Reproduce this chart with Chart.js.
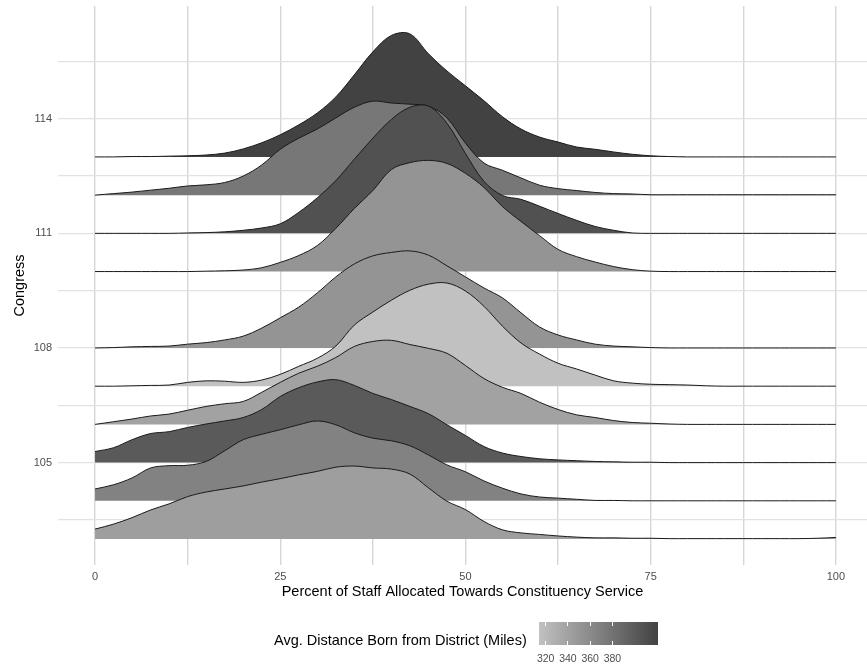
<!DOCTYPE html>
<html lang="en">
<head>
  <meta charset="UTF-8" />
  <title>Constituency Service by Congress</title>
  <script src="https://cdn.jsdelivr.net/npm/chart.js"></script>
  <style>
    body {
      margin: 0;
      background: #fff;
      font-family: 'Liberation Sans', Arial, sans-serif;
    }

    .wrap {
      position: relative;
      width: 867px;
      height: 666px;
    }

    .legend-title {
      position: absolute;
      left: 274px;
      top: 632px;
      font-size: 14.5px;
      line-height: 17px;
      color: #000;
      white-space: nowrap;
    }

    .colorbar {
      position: absolute;
      left: 539px;
      top: 622px;
      width: 119px;
      height: 23px;
      background: linear-gradient(to right, rgb(193,193,193), rgb(66,66,66));
    }

    .cb-tick {
      position: absolute;
      width: 1px;
      height: 4px;
      background: #fff;
    }

    .cb-label {
      position: absolute;
      top: 652px;
      font-size: 10.5px;
      line-height: 13px;
      color: #4d4d4d;
      transform: translateX(-50%);
    }
  </style>
</head>
<body>
  <div class="wrap">
    <canvas id="ridges"></canvas>
    <div class="legend-title">Avg. Distance Born from District (Miles)</div>
    <div class="colorbar" id="colorbar"></div>
  </div>

  <script>
    // congresses that have data (109 has none), bottom to top
    const congresses = [103, 104, 105, 106, 107, 108, 110, 111, 112, 113];
    // average distance born from district, same order
    const avgDistance = [343.5, 367, 401, 340, 314, 352, 352, 408, 376, 421];

    // x positions where ridge heights were read (percent of staff)
    const xGrid = [0, 2.5, 5, 7.5, 10, 12.5, 15, 17.5, 20, 22.5, 25, 27.5, 30, 32.5, 35, 37.5,
      40, 42.5, 45, 47.5, 50, 52.5, 55, 57.5, 60, 62.5, 65, 67.5, 70, 72.5, 75, 77.5,
      80, 82.5, 85, 87.5, 90, 92.5, 95, 97.5, 100];

    // scaled density heights (in congress rows) for each congress
    const density103 = [0.26, 0.39, 0.56, 0.76, 0.92, 1.11, 1.23, 1.31, 1.39, 1.49, 1.58, 1.68, 1.77, 1.88, 1.91, 1.86,
      1.83, 1.70, 1.34, 0.99, 0.77, 0.46, 0.24, 0.16, 0.12, 0.08, 0.05, 0.03, 0.03, 0.02, 0.02, 0.01,
      0.01, 0.01, 0.01, 0.01, 0.01, 0.01, 0.01, 0.02, 0.04];
    const density104 = [0.31, 0.42, 0.60, 0.86, 0.92, 0.93, 1.03, 1.31, 1.60, 1.74, 1.86, 1.99, 2.09, 1.99, 1.78, 1.64,
      1.57, 1.44, 1.20, 0.94, 0.76, 0.52, 0.33, 0.18, 0.10, 0.07, 0.04, 0.01, 0.01, 0, 0, 0,
      0, 0, 0, 0, 0, 0, 0, 0, 0];
    const density105 = [0.29, 0.39, 0.60, 0.76, 0.81, 0.92, 1.01, 1.09, 1.18, 1.39, 1.73, 1.96, 2.11, 2.17, 2.02, 1.81,
      1.65, 1.47, 1.28, 0.99, 0.71, 0.42, 0.25, 0.16, 0.10, 0.07, 0.05, 0.03, 0.02, 0.01, 0.01, 0,
      0, 0, 0, 0, 0, 0, 0, 0, 0];
    const density106 = [0, 0.07, 0.14, 0.22, 0.27, 0.37, 0.47, 0.54, 0.60, 0.84, 1.10, 1.34, 1.52, 1.75, 2.04, 2.17,
      2.20, 2.09, 1.99, 1.86, 1.54, 1.20, 0.97, 0.81, 0.58, 0.39, 0.25, 0.18, 0.10, 0.05, 0.03, 0.01,
      0, 0, 0, 0, 0, 0, 0, 0, 0];
    const density107 = [0, 0, 0.01, 0.02, 0.03, 0.10, 0.14, 0.13, 0.10, 0.16, 0.31, 0.52, 0.73, 1.05, 1.60, 1.94,
      2.25, 2.51, 2.67, 2.70, 2.49, 2.09, 1.57, 1.13, 0.84, 0.60, 0.45, 0.29, 0.14, 0.08, 0.05, 0.04,
      0.03, 0.01, 0, 0, 0, 0, 0, 0, 0];
    const density108 = [0, 0.01, 0.03, 0.04, 0.05, 0.10, 0.14, 0.21, 0.31, 0.52, 0.79, 1.07, 1.44, 1.86, 2.20, 2.41,
      2.50, 2.54, 2.43, 2.15, 1.86, 1.57, 1.31, 0.92, 0.55, 0.34, 0.21, 0.10, 0.05, 0.03, 0.01, 0,
      0, 0, 0, 0, 0, 0, 0, 0, 0];
    const density110 = [0, 0, 0, 0, 0, 0, 0.01, 0.02, 0.04, 0.10, 0.24, 0.42, 0.68, 1.13, 1.65, 2.12,
      2.67, 2.85, 2.91, 2.83, 2.57, 2.20, 1.70, 1.31, 0.94, 0.58, 0.39, 0.25, 0.13, 0.05, 0.01, 0,
      0, 0, 0, 0, 0, 0, 0, 0, 0];
    const density111 = [0, 0, 0, 0, 0, 0.01, 0.02, 0.04, 0.08, 0.14, 0.25, 0.55, 0.93, 1.38, 1.94, 2.49,
      2.98, 3.30, 3.33, 2.88, 2.09, 1.36, 0.99, 0.89, 0.71, 0.52, 0.34, 0.18, 0.08, 0.01, 0, 0,
      0, 0, 0, 0, 0, 0, 0, 0, 0];
    const density112 = [0, 0.04, 0.08, 0.13, 0.18, 0.24, 0.27, 0.33, 0.50, 0.79, 1.20, 1.49, 1.73, 2.02, 2.30, 2.46,
      2.41, 2.38, 2.33, 2.02, 1.36, 0.84, 0.65, 0.45, 0.26, 0.17, 0.12, 0.07, 0.04, 0.03, 0.01, 0.01,
      0.01, 0.01, 0.01, 0.01, 0.01, 0.01, 0.01, 0.01, 0.01];
    const density113 = [0, 0, 0.01, 0.01, 0.02, 0.03, 0.05, 0.10, 0.21, 0.37, 0.58, 0.84, 1.15, 1.57, 2.15, 2.75,
      3.18, 3.22, 2.70, 2.25, 1.86, 1.47, 1.05, 0.73, 0.52, 0.39, 0.26, 0.20, 0.13, 0.07, 0.03, 0.01,
      0, 0, 0, 0, 0, 0, 0, 0, 0];

    const densities = [density103, density104, density105, density106, density107,
      density108, density110, density111, density112, density113];

    // axis ticks (majors labelled, minors only gridlines)
    const xTicks = [0, 12.5, 25, 37.5, 50, 62.5, 75, 87.5, 100];
    const yTicks = [103.5, 105, 106.5, 108, 109.5, 111, 112.5, 114, 115.5];

    // colour scale for the legend
    const distMin = 314;
    const distMax = 421;
    const distTicks = [320, 340, 360, 380];

    function grayFor(d) {
      const t = (d - distMin) / (distMax - distMin);
      const g = Math.round(193 - t * 127);
      return `rgb(${g},${g},${g})`;
    }

    // first dataset is painted last, so the lowest congress sits on top
    const datasets = congresses.map((c, i) => ({
      label: String(c),
      data: xGrid.map((x, j) => ({ x: x, y: c + densities[i][j] })),
      fill: { value: c },
      backgroundColor: grayFor(avgDistance[i]),
      borderColor: '#1a1a1a',
      borderWidth: 1,
      pointRadius: 0,
      tension: 0.35
    }));

    const ctx = document.getElementById('ridges').getContext('2d');
    const wrap = document.querySelector('.wrap');

    new Chart(ctx, {
      type: 'line',
      data: { datasets: datasets },
      options: {
        responsive: true,
        maintainAspectRatio: false,
        animation: false,
        layout: { padding: { top: 6, right: 0, bottom: 56, left: 0 } },
        plugins: {
          legend: { display: false },
          tooltip: { enabled: false }
        },
        scales: {
          x: {
            type: 'linear',
            min: -5,
            max: 104.2,
            afterBuildTicks: scale => { scale.ticks = xTicks.map(v => ({ value: v })); },
            afterFit: scale => {
              scale.height = 45;
              scale.paddingLeft = 0;
              scale.paddingRight = 0;
            },
            border: { display: false },
            grid: { color: '#d6d6d6', lineWidth: 1.4, drawTicks: false },
            ticks: {
              autoSkip: false,
              maxRotation: 0,
              padding: 5,
              color: '#4d4d4d',
              font: { family: 'Liberation Sans', size: 11 },
              callback: v => (v % 25 === 0 ? v : '')
            },
            title: {
              display: true,
              text: 'Percent of Staff Allocated Towards Constituency Service',
              color: '#000',
              font: { family: 'Liberation Sans', size: 14.5 },
              padding: { top: 0, bottom: 9 }
            }
          },
          y: {
            type: 'linear',
            min: 102.32,
            max: 116.95,
            afterBuildTicks: scale => { scale.ticks = yTicks.map(v => ({ value: v })); },
            afterFit: scale => {
              scale.width = 58;
              scale.paddingTop = 0;
              scale.paddingBottom = 0;
            },
            border: { display: false },
            grid: { color: '#e2e2e2', lineWidth: 1.3, drawTicks: false },
            ticks: {
              autoSkip: false,
              padding: 6,
              color: '#4d4d4d',
              font: { family: 'Liberation Sans', size: 11 },
              callback: v => (Number.isInteger(v) ? v : '')
            },
            title: {
              display: true,
              text: 'Congress',
              color: '#000',
              font: { family: 'Liberation Sans', size: 14.5 },
              padding: { top: 11, bottom: 0 }
            }
          }
        }
      }
    });

    // colourbar ticks and labels
    const bar = document.getElementById('colorbar');
    const barLeft = 539, barWidth = 119;
    distTicks.forEach(v => {
      const px = (v - distMin) / (distMax - distMin) * barWidth;
      const top = document.createElement('div');
      top.className = 'cb-tick';
      top.style.left = (px - 0.5) + 'px';
      top.style.top = '0px';
      bar.appendChild(top);
      const bottom = document.createElement('div');
      bottom.className = 'cb-tick';
      bottom.style.left = (px - 0.5) + 'px';
      bottom.style.bottom = '0px';
      bar.appendChild(bottom);
      const label = document.createElement('div');
      label.className = 'cb-label';
      label.style.left = (barLeft + px) + 'px';
      label.textContent = v;
      wrap.appendChild(label);
    });
  </script>
</body>
</html>
